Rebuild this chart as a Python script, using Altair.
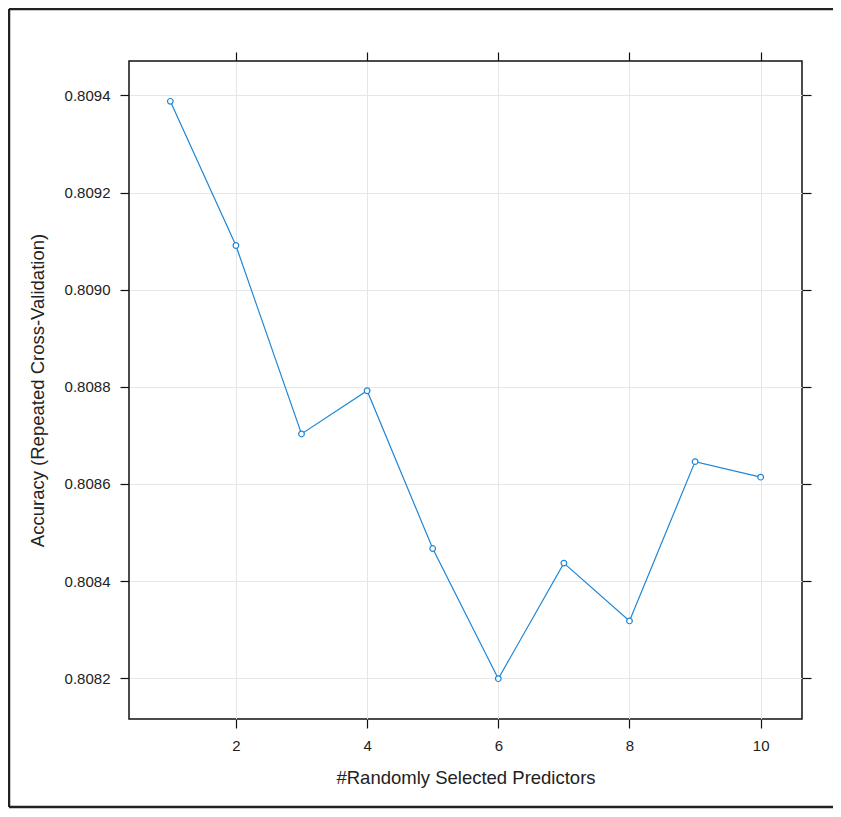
import altair as alt
import pandas as pd

predictors = [1, 2, 3, 4, 5, 6, 7, 8, 9, 10]
accuracy = [0.809388, 0.809091, 0.808703, 0.808792, 0.808467,
            0.808199, 0.808437, 0.808318, 0.808646, 0.808614]
x_ticks = [2, 4, 6, 8, 10]
y_ticks = [0.8082, 0.8084, 0.8086, 0.8088, 0.8090, 0.8092, 0.8094]

df = pd.DataFrame({"p": predictors, "acc": accuracy})

BLUE = "#1e86d6"
FONT = "Liberation Sans"

xscale = alt.Scale(domain=[0.37, 10.63], nice=False, zero=False)
yscale = alt.Scale(domain=[0.808116, 0.809471], nice=False, zero=False)

x_main = alt.X("p:Q", scale=xscale, title="#Randomly Selected Predictors",
               axis=alt.Axis(values=x_ticks, grid=True, labelPadding=10,
                             titlePadding=15, format="d"))
y_main = alt.Y("acc:Q", scale=yscale, title="Accuracy (Repeated Cross-Validation)",
               axis=alt.Axis(values=y_ticks, grid=True, format=".4f",
                             labelPadding=10, titlePadding=17))

base = alt.Chart(df)
line = base.mark_line(
    color=BLUE, strokeWidth=1.2,
    point=alt.OverlayMarkDef(color=BLUE, shape="circle", filled=False, size=32,
                             strokeWidth=1.2, fill="white"),
).encode(x=x_main, y=y_main)

x_top = alt.X("p:Q", scale=xscale, title=None,
              axis=alt.Axis(orient="top", values=x_ticks, labels=False, grid=False))
y_right = alt.Y("acc:Q", scale=yscale, title=None,
                axis=alt.Axis(orient="right", values=y_ticks, labels=False, grid=False))
ghost = base.mark_point(opacity=0).encode(x=x_top, y=y_right)

frame_df = pd.DataFrame({"k": [0]})
fb = alt.Chart(frame_df)
frame_top = fb.mark_rule(color="#222222", strokeWidth=2.5).encode(
    x=alt.value(-120), x2=alt.value(704), y=alt.value(-52))
frame_left = fb.mark_rule(color="#222222", strokeWidth=2.5).encode(
    x=alt.value(-120), y=alt.value(-52), y2=alt.value(746))
frame_bottom = fb.mark_rule(color="#222222", strokeWidth=2.5).encode(
    x=alt.value(-120), x2=alt.value(704), y=alt.value(746))

chart = alt.layer(line, ghost, frame_top, frame_left, frame_bottom).resolve_axis(
    x="independent", y="independent"
).properties(
    width=673, height=658,
    padding={"left": 121, "top": 53, "right": 31, "bottom": 90},
    autosize=alt.AutoSizeParams(type="none"),
    background="white",
).configure_view(
    stroke="#111111", strokeWidth=1.5
).configure_axis(
    domain=False, tickColor="#111111", tickSize=9, tickWidth=1.2,
    labelFont=FONT, labelFontSize=15, labelColor="#222222",
    titleFont=FONT, titleFontSize=18.5, titleFontWeight="normal", titleColor="#222222",
    gridColor="#e6e6e6", gridWidth=1,
)

chart.save("out.html", embed_options={"renderer": "svg", "actions": False})
